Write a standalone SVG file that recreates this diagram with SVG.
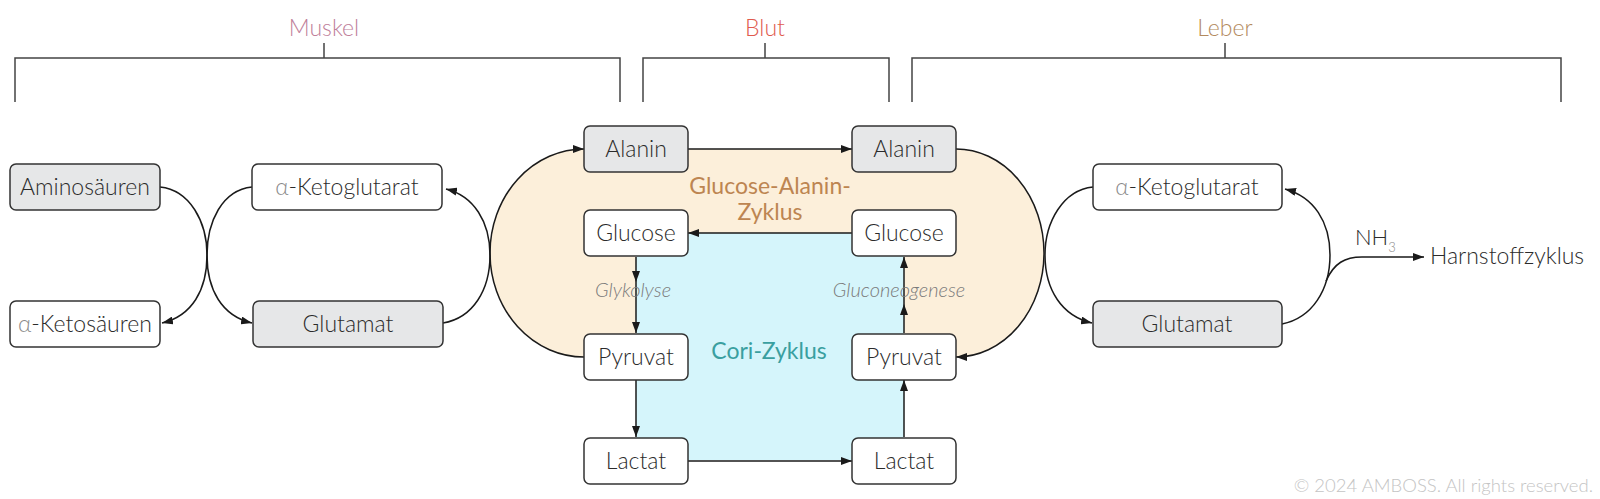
<svg xmlns="http://www.w3.org/2000/svg" width="1600" height="499" viewBox="0 0 1600 499">
<defs>
<marker id="ah" markerWidth="11" markerHeight="8" refX="11" refY="4" orient="auto" markerUnits="userSpaceOnUse">
<path d="M0,0 L11,4 L0,8 Z" fill="#1a1a1a"/>
</marker>
<style>
text{font-family:Lato,"Open Sans","Liberation Sans",sans-serif;font-weight:300}
.box{stroke:#333;stroke-width:1.5;fill:#fff}
.gray{fill:#e6e7e8}
.lbl{font-size:23px;fill:#2b2b2b;text-anchor:middle}
.alpha{fill:#8a8a8a}
.con{fill:none;stroke:#1a1a1a;stroke-width:1.5}
.arr{marker-end:url(#ah)}
.br{fill:none;stroke:#444;stroke-width:1.5}
.head{font-size:23px;text-anchor:middle;font-weight:300}
.proc{font-size:20px;font-style:italic;fill:#7a7a7a;text-anchor:middle}
.cyc{font-size:23px;text-anchor:middle;font-weight:400}
</style>
</defs>
<rect width="1600" height="499" fill="#fff"/>

<g id="brackets">
<path class="br" d="M15,102 V58 H620 V102 M324,58 V43"/>
<path class="br" d="M643,102 V58 H889 V102 M765,58 V43"/>
<path class="br" d="M912,102 V58 H1561 V102 M1225,58 V43"/>
<text class="head" x="324" y="36" fill="#c0809a">Muskel</text>
<text class="head" x="765" y="36" fill="#e05a4e">Blut</text>
<text class="head" x="1225" y="36" fill="#b38a5e">Leber</text>
</g>

<g id="areas">
<path d="M584,149 L956,149 A88,104 0 0 1 956,357 L584,357 A94,104 0 0 1 584,149 Z" fill="#fcefda"/>
<rect x="636" y="233" width="268" height="227" fill="#d5f5fb"/>
</g>

<g id="connectors">
<path class="con arr" d="M160,187 C190,190 207,222 207,255 C207,290 192,316 162,323"/>
<path class="con arr" d="M252,187 C222,190 207,222 207,255 C207,290 222,316 252,323"/>
<path class="con arr" d="M443,323 C473,318 490,290 490,255 C490,222 474,196 446,189"/>
<path class="con arr" d="M584,357 A94,104 0 0 1 584,149"/>
<path class="con arr" d="M956,149 A88,104 0 0 1 956,357"/>
<path class="con arr" d="M688,149 L852,149"/>
<path class="con arr" d="M852,233 L688,233"/>
<path class="con arr" d="M636,257 L636,282"/>
<path class="con arr" d="M636,282 L636,333"/>
<path class="con arr" d="M904,333 L904,304"/>
<path class="con arr" d="M904,304 L904,257"/>
<path class="con arr" d="M636,380 L636,437"/>
<path class="con arr" d="M688,461 L852,461"/>
<path class="con arr" d="M904,437 L904,380"/>
<path class="con arr" d="M1093,187 C1063,190 1045,222 1045,255 C1045,290 1062,316 1092,323"/>
<path class="con arr" d="M1282,324 C1312,318 1330,290 1330,255 C1330,222 1314,197 1285,189"/>
<path class="con arr" d="M1326,281 C1334,263 1345,257 1362,257 L1424,257"/>
</g>

<g id="cycle-labels">
<text class="cyc" x="770" y="194" fill="#bd8551">Glucose-Alanin-</text>
<text class="cyc" x="770" y="220" fill="#bd8551">Zyklus</text>
<text class="cyc" x="769" y="359" fill="#3a9fa0">Cori-Zyklus</text>
<text class="proc" x="633" y="297">Glykolyse</text>
<text class="proc" x="899" y="297">Gluconeogenese</text>
</g>

<g id="n-aminosaeuren"><rect class="box gray" x="10" y="164" width="150" height="46" rx="6"/><text class="lbl" x="85" y="195">Aminosäuren</text></g>
<g id="n-ketosaeuren"><rect class="box" x="10" y="301" width="150" height="46" rx="6"/><text class="lbl" x="85" y="332"><tspan class="alpha">α</tspan>-Ketosäuren</text></g>
<g id="n-akg-muskel"><rect class="box" x="252" y="164" width="190" height="46" rx="6"/><text class="lbl" x="347" y="195"><tspan class="alpha">α</tspan>-Ketoglutarat</text></g>
<g id="n-glu-muskel"><rect class="box gray" x="253" y="301" width="190" height="46" rx="6"/><text class="lbl" x="348" y="332">Glutamat</text></g>

<g id="n-alanin-m"><rect class="box gray" x="584" y="126" width="104" height="46" rx="6"/><text class="lbl" x="636" y="157">Alanin</text></g>
<g id="n-alanin-l"><rect class="box gray" x="852" y="126" width="104" height="46" rx="6"/><text class="lbl" x="904" y="157">Alanin</text></g>
<g id="n-glucose-m"><rect class="box" x="584" y="210" width="104" height="46" rx="6"/><text class="lbl" x="636" y="241">Glucose</text></g>
<g id="n-glucose-l"><rect class="box" x="852" y="210" width="104" height="46" rx="6"/><text class="lbl" x="904" y="241">Glucose</text></g>
<g id="n-pyruvat-m"><rect class="box" x="584" y="334" width="104" height="46" rx="6"/><text class="lbl" x="636" y="365">Pyruvat</text></g>
<g id="n-pyruvat-l"><rect class="box" x="852" y="334" width="104" height="46" rx="6"/><text class="lbl" x="904" y="365">Pyruvat</text></g>
<g id="n-lactat-m"><rect class="box" x="584" y="438" width="104" height="46" rx="6"/><text class="lbl" x="636" y="469">Lactat</text></g>
<g id="n-lactat-l"><rect class="box" x="852" y="438" width="104" height="46" rx="6"/><text class="lbl" x="904" y="469">Lactat</text></g>

<g id="n-akg-leber"><rect class="box" x="1093" y="164" width="189" height="46" rx="6"/><text class="lbl" x="1187" y="195"><tspan class="alpha">α</tspan>-Ketoglutarat</text></g>
<g id="n-glu-leber"><rect class="box gray" x="1093" y="301" width="189" height="46" rx="6"/><text class="lbl" x="1187" y="332">Glutamat</text></g>

<g id="n-harnstoff">
<text x="1355" y="245" font-size="22" fill="#2b2b2b">NH<tspan font-size="13" dy="7" fill="#8a8a8a">3</tspan></text>
<text x="1430" y="264" font-size="23" fill="#2b2b2b">Harnstoffzyklus</text>
</g>

<text x="1593" y="492" font-size="18.5" fill="#c4c4c4" text-anchor="end">© 2024 AMBOSS. All rights reserved.</text>
</svg>
